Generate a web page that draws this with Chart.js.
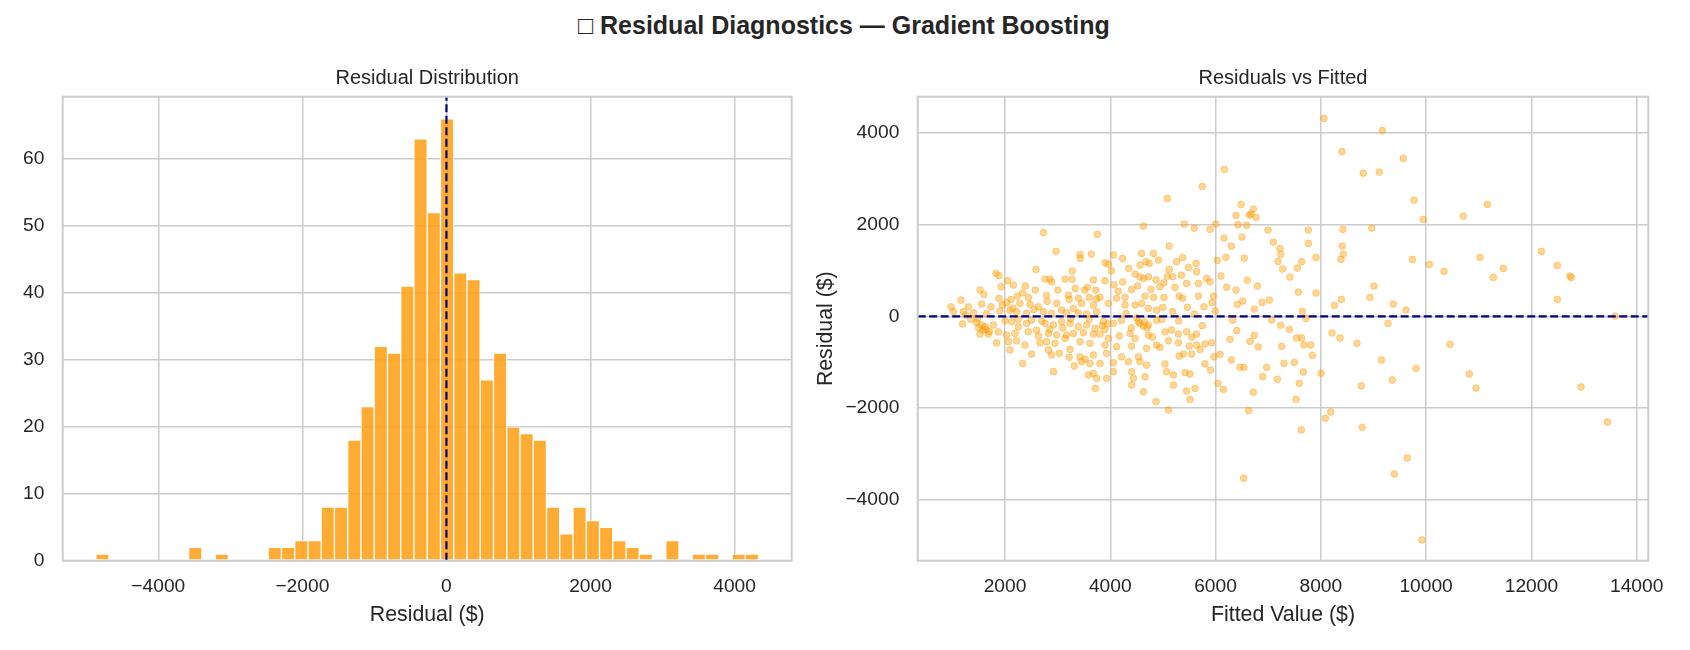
<!DOCTYPE html>
<html>
<head>
<meta charset="utf-8">
<script src="https://cdn.jsdelivr.net/npm/chart.js@4.4.1/dist/chart.umd.min.js"></script>
<style>
  html, body { margin: 0; padding: 0; background: #ffffff; }
  #wrap { position: relative; width: 1690px; height: 650px; overflow: hidden; background: #fff; }
  #c1 { position: absolute; left: 0; top: 0; }
  #c2 { position: absolute; left: 800px; top: 0; }
  #suptitle { position: absolute; left: 578px; top: 10px; font: bold 25px "Liberation Sans", Arial, sans-serif; line-height: 30px; color: #262626; white-space: nowrap; }
</style>
</head>
<body>
<div id="wrap">
  <div id="suptitle">□ Residual Diagnostics — Gradient Boosting</div>
  <canvas id="c1" width="800" height="650"></canvas>
  <canvas id="c2" width="890" height="650"></canvas>
</div>
<script>
// ---------------- DATA ----------------
// Histogram of residuals: 50 bins
const histBinStart = -4867;
const histBinWidth = 184;
const histCounts = [1,0,0,0,0,0,0,2,0,1, 0,0,0,2,2,3,3,8,8,18, 23,32,31,41,63,52,66,43,42,27, 31,20,19,18,8,4,8,6,5,3, 2,1,0,3,0,1,1,0,1,1];
const histXTicks = [-4000, -2000, 0, 2000, 4000];
const histYTicks = [0, 10, 20, 30, 40, 50, 60];
const histXRange = [-5327, 4793];
const histYRange = [0, 69.3];

// Scatter: [fitted value, residual]
const residualPoints = [
 [2730,1830],[2970,1420],[3425,1350],[3430,1265],[3640,1360],[3755,1790],[2590,1025],[3280,990],[1830,940],[1885,890],
 [2760,815],[2855,815],[2885,755],[3140,815],[3275,810],[3680,795],[2050,780],[1925,650],[2160,685],[2385,665],
 [1525,575],[2575,575],[3005,575],[3335,610],[3515,575],[3565,635],[3725,575],[1885,395],[2115,370],[2235,445],
 [2335,515],[2445,415],[2790,460],[3205,465],[3220,370],[3395,395],[3600,415],[3740,385],[1165,355],[1555,270],
 [1735,210],[975,210],[1305,210],[2030,300],[2285,285],[2475,265],[2635,210],[2980,285],[3075,140],[3300,175],
 [3455,285],[3680,250],[1020,105],[1210,105],[1400,80],[1905,120],[2095,140],[2220,105],[2410,65],[2730,105],
 [2885,65],[3170,80],[3395,80],[3550,50],[3740,105],[1195,-165],[1460,-135],[1555,-185],[1620,-225],[1780,-185],
 [2000,-95],[2125,-115],[2255,-225],[2410,-150],[2505,-80],[2760,-150],[2920,-185],[3075,-115],[3235,-150],[3395,-225],
 [3550,-185],[3710,-260],[1525,-385],[1685,-385],[1875,-335],[2030,-405],[2190,-370],[2445,-335],[2635,-425],[2825,-370],
 [2980,-405],[3170,-405],[3300,-370],[3490,-355],[3680,-385],[1840,-575],[2065,-550],[2220,-530],[2380,-625],[2665,-575],
 [2790,-550],[2950,-585],[3140,-480],[3235,-720],[3425,-550],[3615,-585],[2095,-730],[2505,-820],[2825,-730],[2885,-840],
 [3030,-805],[3220,-890],[3425,-880],[3520,-935],[3680,-840],[2335,-1025],[3315,-1080],[3455,-985],[3615,-1025],[2920,-1205],
 [3585,-1275],[3680,-1240],[3715,-1570],[3740,-1350],
 [1500,-250],[1580,-300],[1640,-280],[1700,-330],[1480,-40],[1350,-60],[2250,-60],[2600,-300],[3100,-250],[2700,-100],
 [1250,30],[1650,60],[2150,180],[2550,150],[3250,-50],[2850,-280],[3600,-60],[1600,480],[1950,250],[2800,330],
 [4630,1970],[5405,2015],[5595,1925],[5895,1900],[5120,1535],[4595,1375],[4820,1375],[4060,1340],[4235,1265],[3900,1170],
 [3965,1140],[4680,1195],[4740,1155],[4565,1120],[4915,1230],[5260,1195],[5375,1285],[5630,1155],[5485,1070],[5640,975],
 [4025,995],[4470,925],[4565,865],[4630,830],[4725,865],[5120,1025],[5085,880],[5185,865],[4870,795],[5020,735],
 [3900,780],[4070,690],[4235,755],[4405,590],[4520,665],[4775,590],[4945,650],[5230,635],[5450,720],[5675,720],
 [5830,830],[5895,755],[3805,415],[4120,395],[4280,415],[4660,445],[4820,415],[5020,415],[5310,445],[5375,395],
 [5675,445],[5960,445],[3965,285],[4280,250],[4470,250],[4595,285],[4725,175],[4880,140],[5185,105],[5465,200],
 [5780,210],[5935,300],[5995,120],[3870,-115],[4060,-150],[4215,-80],[4535,-115],[4630,-210],[4725,-185],[4880,-80],
 [4975,-65],[5165,-295],[5040,-335],[5295,-385],[5450,-335],[5640,-385],[3805,-385],[3965,-480],[4170,-425],[4375,-370],
 [4470,-480],[4725,-405],[3900,-625],[4120,-660],[4405,-645],[4690,-695],[4945,-675],[4880,-625],[5105,-530],[5295,-575],
 [5500,-645],[5640,-625],[5800,-600],[5925,-575],[3930,-805],[4215,-880],[4535,-880],[4565,-985],[5310,-865],[5390,-820],
 [5545,-820],[5705,-720],[5970,-880],[3805,-1025],[4060,-1010],[4345,-985],[4690,-1060],[5040,-1035],[5070,-1205],[5200,-1275],
 [5420,-1225],[5515,-1255],[5800,-1035],[5905,-1170],[3930,-1350],[4060,-1205],[4405,-1205],[4440,-1350],[4660,-1315],[4405,-1495],
 [4630,-1640],[5200,-1495],[5450,-1625],[5610,-1570],[5515,-1810],[4870,-1860],[5105,-2040],
 [4560,-150],[4650,-120],[4700,-250],[3850,-200],[3900,-280],[3950,-160],[4300,60],[4500,-30],[5000,200],[5300,-100],
 [5600,50],[4150,550],[4400,-250],[5550,-450],[4800,-450],[5350,900],[4350,1050],[5750,-200],
 [8060,4317],[9168,4056],[8402,3598],[8807,3126],[9111,3148],[6167,3206],[5749,2835],[5084,2574],[6484,2443],[6389,2203],
 [6642,2211],[6718,2341],[6769,2160],[6674,2230],[6427,2000],[6591,1985],[6002,2014],[6997,1884],[7763,1884],[8420,1898],
 [8966,1927],[6161,1709],[6300,1535],[6503,1731],[7098,1622],[7224,1484],[7237,1353],[7187,1201],[7275,1034],[7763,1593],
 [7908,1288],[7636,1194],[7554,1056],[7414,859],[8408,1535],[8427,1361],[8383,1244],[6547,1273],[6199,1288],[6034,1223],
 [6104,881],[6604,787],[6794,663],[6389,576],[6211,641],[7573,532],[7908,511],[7022,358],[6883,307],[6515,336],
 [6414,264],[6737,162],[7649,111],[7718,-42],[7066,-78],[6325,-78],[9010,663],[8934,416],[8389,373],[8257,242],
 [9377,271],[9276,-151],[8212,-361],[8364,-470],[8687,-586],[7237,-194],[7402,-281],[7541,-470],[7636,-470],[7680,-623],
 [7807,-623],[7839,-848],[7256,-652],[6813,-666],[6655,-543],[6737,-412],[6401,-310],[6275,-499],[6300,-950],[7300,-1022],
 [7497,-1000],[7668,-1211],[6971,-1109],[6895,-1313],[7174,-1371],[7592,-1458],[6465,-1109],[6541,-1109],[6718,-1654],[7528,-1807],
 [8003,-1240],[8769,-1516],[9358,-1386],[9149,-950],[6629,-2054],[8086,-2221],[8187,-2083],[7630,-2475],[8788,-2417],[9396,-3434],
 [6534,-3529],[6148,-1589],[6047,-1458],[6085,-826],
 [9567,3446],[9770,2537],[9947,2116],[10707,2188],[11163,2443],[9738,1244],[10061,1135],[10340,983],[11024,1288],[11277,852],
 [11467,1048],[12189,1419],[12493,1114],[12730,880],[12760,850],[12493,373],[9618,139],[13589,9],[10454,-608],[9808,-1131],
 [10821,-1255],[10948,-1561],[12943,-1539],[13442,-2302],[9643,-3086],[9922,-4874]
];
const scatterXTicks = [2000, 4000, 6000, 8000, 10000, 12000, 14000];
const scatterYTicks = [-4000, -2000, 0, 2000, 4000];
const scatterXRange = [342, 14221];
const scatterYRange = [-5327, 4793];
const zeroRef = 0;

// ---------------- STYLE ----------------
const FONT = '"Liberation Sans", Arial, sans-serif';
const TXT = '#262626';
const GRID = '#cccccc';
Chart.defaults.font.family = FONT;
Chart.defaults.color = TXT;

const fmt = v => String(v).replace('-', '\u2212');
const fixedTicks = arr => (s => { s.ticks = arr.map(v => ({ value: v })); });

const framePlugin = {
  id: 'frame',
  afterDatasetsDraw(chart) {
    const { ctx, chartArea: a } = chart;
    ctx.save();
    ctx.strokeStyle = GRID;
    ctx.lineWidth = 2;
    ctx.strokeRect(a.left, a.top, a.right - a.left, a.bottom - a.top);
    ctx.restore();
  }
};

function axisCommon(ticksArr, range, pad) {
  return {
    type: 'linear', min: range[0], max: range[1], offset: false,
    afterBuildTicks: fixedTicks(ticksArr),
    grid: { color: GRID, lineWidth: 1.5, drawTicks: false, offset: false },
    border: { display: false },
    ticks: { padding: pad, font: { size: 19.2, family: FONT }, color: TXT, callback: fmt, autoSkip: false, maxRotation: 0 }
  };
}

// ---------------- HISTOGRAM ----------------
const histData = histCounts.map((c, i) => ({ x: histBinStart + (i + 0.5) * histBinWidth, y: c }));

new Chart(document.getElementById('c1'), {
  type: 'bar',
  data: {
    datasets: [
      {
        type: 'bar', data: histData,
        backgroundColor: 'rgba(255,160,25,0.88)', borderColor: '#ffffff', borderWidth: 1,
        borderSkipped: false, barPercentage: 1, categoryPercentage: 1, order: 2
      },
      {
        type: 'line', data: [{ x: zeroRef, y: histYRange[0] }, { x: zeroRef, y: histYRange[1] }],
        borderColor: '#000080', borderWidth: 2.2, borderDash: [8, 3.5], pointRadius: 0, order: 1
      }
    ]
  },
  options: {
    responsive: false, animation: false, devicePixelRatio: 1,
    layout: { padding: { left: 0, right: 8.3, top: 0, bottom: 0 } },
    plugins: {
      legend: { display: false }, tooltip: { enabled: false },
      title: { display: true, text: 'Residual Distribution', fullSize: false, color: TXT,
               font: { family: FONT, size: 20, weight: 'normal' }, padding: { top: 66.7, bottom: 6 } }
    },
    scales: {
      x: Object.assign(axisCommon(histXTicks, histXRange, 14.5), {
        title: { display: true, text: 'Residual ($)', color: TXT, font: { family: FONT, size: 21.3 }, padding: { top: 0, bottom: 22 } },
        afterFit: s => { s.height = 89.3; }
      }),
      y: Object.assign(axisCommon(histYTicks, histYRange, 18.4), {
        afterFit: s => { s.width = 62.7; }
      })
    }
  },
  plugins: [framePlugin]
});

// ---------------- SCATTER ----------------
new Chart(document.getElementById('c2'), {
  type: 'scatter',
  data: {
    datasets: [
      {
        type: 'scatter', data: residualPoints.map(p => ({ x: p[0], y: p[1] })),
        pointRadius: 3.4, pointBackgroundColor: 'rgba(255,160,0,0.42)',
        pointBorderColor: 'rgba(255,145,0,0.42)', pointBorderWidth: 0.8, order: 2
      },
      {
        type: 'line', data: [{ x: scatterXRange[0], y: zeroRef }, { x: scatterXRange[1], y: zeroRef }],
        borderColor: '#000080', borderWidth: 2.2, borderDash: [8, 3.5], pointRadius: 0, order: 1
      }
    ]
  },
  options: {
    responsive: false, animation: false, devicePixelRatio: 1,
    layout: { padding: { left: 0, right: 41.7, top: 0, bottom: 0 } },
    plugins: {
      legend: { display: false }, tooltip: { enabled: false },
      title: { display: true, text: 'Residuals vs Fitted', fullSize: false, color: TXT,
               font: { family: FONT, size: 20, weight: 'normal' }, padding: { top: 66.7, bottom: 6 } }
    },
    scales: {
      x: Object.assign(axisCommon(scatterXTicks, scatterXRange, 14.5), {
        title: { display: true, text: 'Fitted Value ($)', color: TXT, font: { family: FONT, size: 21.3 }, padding: { top: 0, bottom: 22 } },
        afterFit: s => { s.height = 89.3; }
      }),
      y: Object.assign(axisCommon(scatterYTicks, scatterYRange, 18.4), {
        title: { display: true, text: 'Residual ($)', color: TXT, font: { family: FONT, size: 21.3 }, padding: { top: 13.8, bottom: 0 } },
        afterFit: s => { s.width = 117.7; }
      })
    }
  },
  plugins: [framePlugin]
});
</script>
</body>
</html>
